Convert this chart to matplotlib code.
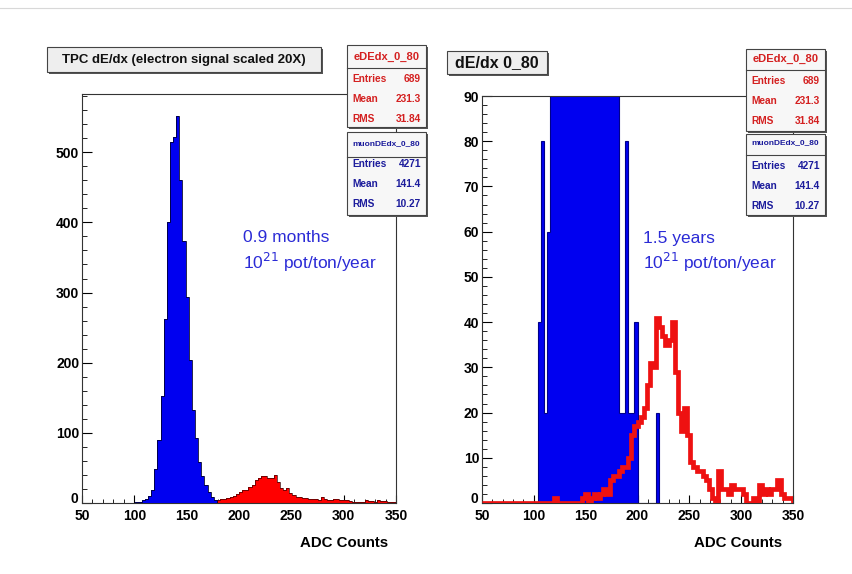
import numpy as np
import matplotlib
matplotlib.use('Agg')
import matplotlib.pyplot as plt
from matplotlib.patches import Rectangle
from matplotlib.lines import Line2D
from matplotlib.ticker import MultipleLocator, FuncFormatter

W, H = 852, 574
plt.rcParams['font.family'] = ['Liberation Sans', 'DejaVu Sans']

# ---------------- data ----------------
bin_lo, bin_hi, bin_w = 50, 350, 3

# left panel (0.9 months): muon counts and electron (scaled 20X)
muon_left_start = 101
muon_left = [1, 2, 4, 6, 10, 19, 48, 90, 153, 262, 400, 515, 522, 551, 460,
             373, 293, 204, 132, 92, 58, 39, 25, 15, 8, 4]
elec_left_start = 176
elec_left = [2, 4, 5, 5, 7, 8, 10, 13, 16, 18, 19, 23, 26, 33, 36, 39, 38, 36,
             35, 40, 30, 22, 18, 21, 14, 11, 9, 8, 7, 7, 6, 5, 5, 4, 9, 5, 4,
             4, 5, 5, 4, 4, 4, 3, 2, 1, 1, 2, 4, 3, 3, 2, 4, 3, 3, 2, 2, 1]

# right panel (1.5 years): muon (off-scale values above 90) and electron
muon_right_start = 104
muon_right = [40, 80, 20, 60,
              380, 960, 1800, 3060, 5240, 8000, 10300, 10440, 11020, 9200, 7460,
              5860, 4080, 2640, 1840, 1160, 780, 500, 300, 160, 120, 100,
              20, 20, 80, 20, 20, 40, 0, 0, 0, 0, 0, 0, 20]
elec_right_start = 50
elec_right = [0] * 23 + [1] + [0] * 8 + [
    1, 2, 0, 1, 2, 1, 2, 3, 2, 5,
    6, 6, 7, 8, 8, 10, 15, 17, 18, 19,
    21, 26, 31, 30, 41, 39, 37, 35, 36, 40,
    29, 20, 16, 21, 15, 9, 8, 7, 7, 6,
    5, 3, 1, 0, 7, 3, 3, 2, 4, 3,
    3, 3, 2, 0, 0, 1, 0, 4, 2, 3,
    2, 3, 3, 5, 2, 1, 1, 1]

left_title = "TPC dE/dx (electron signal scaled 20X)"
right_title = "dE/dx 0_80"
elec_stats = [("Entries", "689"), ("Mean", "231.3"), ("RMS", "31.84")]
muon_stats = [("Entries", "4271"), ("Mean", "141.4"), ("RMS", "10.27")]


def edges_for(start, n):
    return start + bin_w * np.arange(n + 1)


def fx(x):
    return x / W


def fy(y):
    return 1 - y / H


fig = plt.figure(figsize=(W / 100, H / 100), dpi=100)
fig.patch.set_facecolor('white')

# thin grey line at top
fig.add_artist(Line2D([0, 1], [fy(8), fy(8)], color='#d8d8d8', lw=0.8))

axL = fig.add_axes([fx(82), fy(503), fx(396 - 82), (503 - 94) / H])
axR = fig.add_axes([fx(482), fy(503), fx(793 - 482), (503 - 96) / H])

# left histograms
axL.stairs(elec_left, edges_for(elec_left_start, len(elec_left)), fill=True,
           facecolor='#ff0000', edgecolor='none', zorder=2)
axL.stairs(elec_left, edges_for(elec_left_start, len(elec_left)), fill=False,
           color='#3a0000', lw=0.5, zorder=2.1)
axL.stairs(muon_left, edges_for(muon_left_start, len(muon_left)), fill=True,
           facecolor='#0000f0', edgecolor='none', zorder=3)
axL.stairs(muon_left, edges_for(muon_left_start, len(muon_left)), fill=False,
           color='#000030', lw=0.6, zorder=3.1)
axL.set_xlim(bin_lo, bin_hi)
axL.set_ylim(0, 583)
axL.yaxis.set_major_locator(MultipleLocator(100))
axL.yaxis.set_minor_locator(MultipleLocator(20))

# right histograms
axR.stairs(muon_right, edges_for(muon_right_start, len(muon_right)), fill=True,
           facecolor='#0000f0', edgecolor='#00008a', lw=0.8, zorder=2)
axR.stairs(elec_right, edges_for(elec_right_start, len(elec_right)), fill=False,
           color='#ee1111', lw=3.4, zorder=3)
axR.set_xlim(bin_lo, bin_hi)
axR.set_ylim(0, 90)
axR.yaxis.set_major_locator(MultipleLocator(10))
axR.yaxis.set_minor_locator(MultipleLocator(2))

yfmt = FuncFormatter(lambda v, p: '' if abs(v) < 1e-9 else f'{v:g}')

for ax in (axL, axR):
    ax.xaxis.set_major_locator(MultipleLocator(50))
    ax.xaxis.set_minor_locator(MultipleLocator(10))
    ax.yaxis.set_major_formatter(yfmt)
    ax.tick_params(direction='in', which='both', top=False, right=False,
                   labelsize=10, colors='black')
    ax.tick_params(axis='y', which='major', length=7, width=0.8, pad=2)
    ax.tick_params(axis='y', which='minor', length=3.5, width=0.6)
    ax.tick_params(axis='x', which='major', length=6, width=0.8, pad=4.5)
    ax.tick_params(axis='x', which='minor', length=3, width=0.6)
    for lab in ax.get_xticklabels() + ax.get_yticklabels():
        lab.set_fontweight('bold')
    for sp in ax.spines.values():
        sp.set_linewidth(0.8)
        sp.set_color('#333333')
    ax.set_facecolor('white')
    # zero label of the y axis, placed just above the x tick labels
    ax.annotate("0", xy=(0, 0), xycoords=('axes fraction', 'data'),
                xytext=(-2.5, -2.2), textcoords='offset points',
                ha='right', va='bottom', fontsize=10, fontweight='bold',
                annotation_clip=False)

# x axis titles
fig.text(fx(344), fy(543), "ADC Counts", ha='center', va='center',
         fontsize=10.8, fontweight='bold')
fig.text(fx(738), fy(543), "ADC Counts", ha='center', va='center',
         fontsize=10.8, fontweight='bold')

# annotation texts
ann_col = '#2b2bd6'
fig.text(fx(243), fy(237), "0.9 months", ha='left', va='center',
         fontsize=12.5, color=ann_col)
fig.text(fx(243), fy(262), r"10$^{21}$ pot/ton/year", ha='left', va='center',
         fontsize=12.5, color=ann_col)
fig.text(fx(643), fy(239), "1.5 years", ha='left', va='center',
         fontsize=12.5, color=ann_col)
fig.text(fx(643), fy(262), r"10$^{21}$ pot/ton/year", ha='left', va='center',
         fontsize=12.5, color=ann_col)


def box(x0, y0, x1, y1, face='#f4f4f4', shadow=2):
    fig.add_artist(Rectangle((fx(x0 + shadow), fy(y1 + shadow)),
                             fx(x1 - x0), (y1 - y0) / H,
                             facecolor='#555555', edgecolor='none', zorder=5))
    fig.add_artist(Rectangle((fx(x0), fy(y1)), fx(x1 - x0), (y1 - y0) / H,
                             facecolor=face, edgecolor='#444444', lw=0.8, zorder=6))


# title boxes
box(47, 47, 321, 72, face='#eeeeee')
fig.text(fx(184), fy(60), left_title, ha='center', va='center', fontsize=9.5,
         fontweight='bold', color='#111111', zorder=7)
box(447, 51, 547, 74, face='#eeeeee')
fig.text(fx(497), fy(63), right_title, ha='center', va='center', fontsize=11.5,
         fontweight='bold', color='#111111', zorder=7)


def stat_box(x0, y0, y1, sep, title, title_y, rows, rows_y, col, tsize):
    x1 = x0 + 79
    box(x0, y0, x1, y1, face='#f7f7f7')
    fig.add_artist(Line2D([fx(x0), fx(x1)], [fy(sep), fy(sep)],
                          color='#444444', lw=0.8, zorder=7))
    fig.text(fx((x0 + x1) / 2), fy(title_y), title, ha='center', va='center',
             fontsize=tsize, fontweight='bold', color=col, zorder=8)
    for (k, v), yy in zip(rows, rows_y):
        fig.text(fx(x0 + 5), fy(yy), k, ha='left', va='center', fontsize=7.3,
                 fontweight='bold', color=col, zorder=8)
        fig.text(fx(x1 - 5), fy(yy), v, ha='right', va='center', fontsize=7.3,
                 fontweight='bold', color=col, zorder=8)


red_c = '#d42020'
navy_c = '#1c1c9c'
stat_box(347, 45, 127, 68, "eDEdx_0_80", 57, elec_stats, [79, 99, 119], red_c, 8)
stat_box(347, 132, 215, 157, "muonDEdx_0_80", 144, muon_stats, [164, 184, 204], navy_c, 6)
stat_box(746, 49, 131, 70, "eDEdx_0_80", 59, elec_stats, [81, 101, 121], red_c, 8)
stat_box(746, 134, 215, 155, "muonDEdx_0_80", 143, muon_stats, [166, 186, 206], navy_c, 6)

fig.savefig('out.png', dpi=100)
